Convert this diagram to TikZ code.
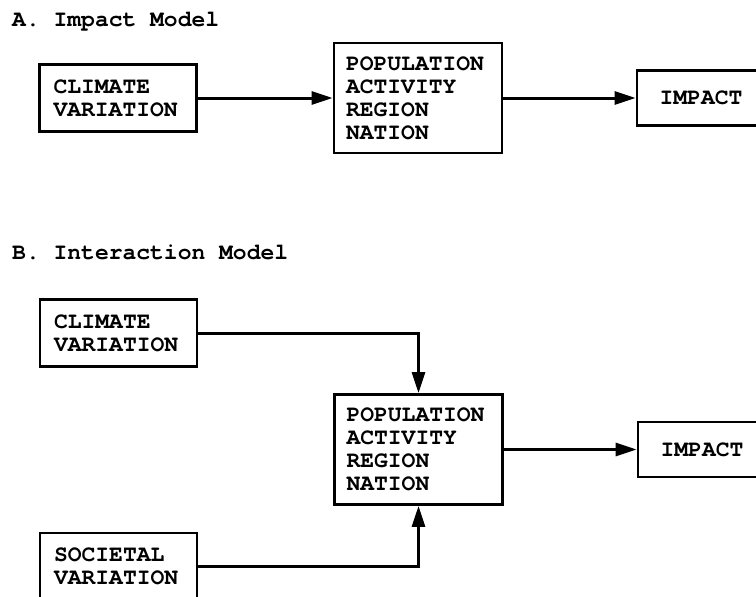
\documentclass[tikz,border=0pt]{standalone}
\usepackage{fontspec}
\setmonofont{texgyrecursor}[Extension=.otf, UprightFont=*-regular, BoldFont=*-bold]
\usetikzlibrary{arrows.meta}
\begin{document}
\begin{tikzpicture}[x=1pt,y=-1pt,
  txt/.style={font=\ttfamily\bfseries\fontsize{23}{23}\selectfont},
  box/.style={txt, draw, line width=2.8pt, align=left, inner ysep=0pt, anchor=center},
  smallbox/.style={box, minimum width=157pt, minimum height=67pt, inner xsep=14pt, text width=129pt},
  popbox/.style={box, minimum width=168pt, minimum height=110pt, inner xsep=12pt, text width=144pt},
  impbox/.style={box, align=center, minimum width=128pt, minimum height=55pt, inner xsep=4pt},
  conn/.style={line width=3pt, -{Triangle[length=21pt,width=13pt]}}]
\useasboundingbox (0,0) rectangle (756,597);
\clip (0,0) rectangle (756,597);
% Part A
\node[txt, anchor=base west, inner sep=0pt] (titleA) at (12,27) {A. Impact Model};
\node[smallbox] (climA) at (118,98) {CLIMATE\\VARIATION};
\node[popbox] (popA) at (418,98) {POPULATION\\ACTIVITY\\REGION\\NATION};
\node[impbox] (impA) at (701,98) {IMPACT};
\draw[conn] (climA) -- (popA);
\draw[conn] (popA) -- (impA);
% Part B
\node[txt, anchor=base west, inner sep=0pt] (titleB) at (12,259) {B. Interaction Model};
\node[smallbox] (climB) at (118.5,333) {CLIMATE\\VARIATION};
\node[popbox] (popB) at (418.5,449.5) {POPULATION\\ACTIVITY\\REGION\\NATION};
\node[impbox] (impB) at (702,449.5) {IMPACT};
\node[smallbox] (soc) at (118.5,566.5) {SOCIETAL\\VARIATION};
\draw[conn] (climB.east) -| (popB.north);
\draw[conn] (soc.east) -| (popB.south);
\draw[conn] (popB) -- (impB);
\end{tikzpicture}
\end{document}
